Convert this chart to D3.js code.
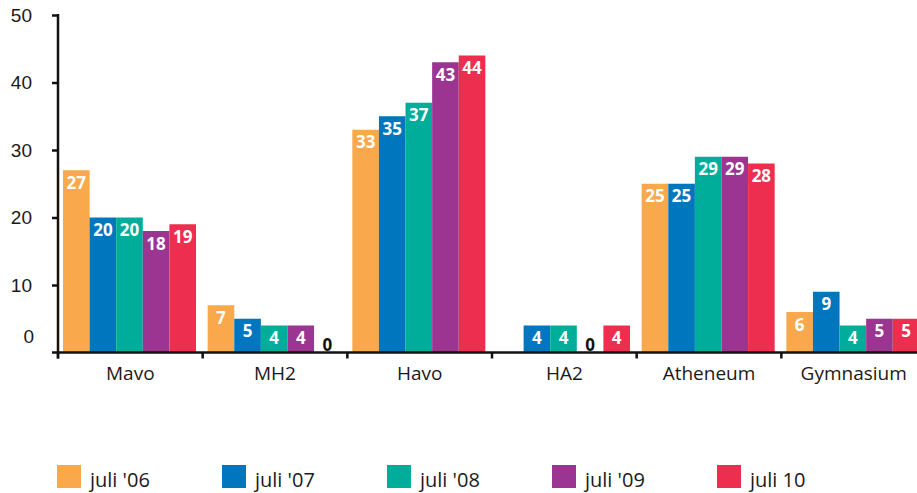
<!DOCTYPE html>
<html>
<head>
<meta charset="utf-8">
<script src="https://cdn.jsdelivr.net/npm/d3@7"></script>
<style>
  body { margin: 0; background: #fff; }
  svg { display: block; font-family: "Open Sans", sans-serif; }
</style>
</head>
<body>
<svg width="917" height="493"></svg>
<script>

var categories = ["Mavo", "MH2", "Havo", "HA2", "Atheneum", "Gymnasium"];
var seriesNames = ["juli '06", "juli '07", "juli '08", "juli '09", "juli 10"];
var seriesColors = ["#f9a84c", "#0076bf", "#00ad9a", "#9b3591", "#ee2e4f"];

var juli06 = [27, 7, 33, null, 25, 6];
var juli07 = [20, 5, 35, 4, 25, 9];
var juli08 = [20, 4, 37, 4, 29, 4];
var juli09 = [18, 4, 43, 0, 29, 5];
var juli10 = [19, 0, 44, 4, 28, 5];

var yTicks = [0, 10, 20, 30, 40, 50];

var series = [juli06, juli07, juli08, juli09, juli10];

var svg = d3.select("svg");

var bandW = 144.67;
var x = d3.scaleBand()
  .domain(categories)
  .range([58, 58 + bandW * categories.length]);

var xs = d3.scaleBand()
  .domain(seriesNames)
  .range([5, 138]);

var y = d3.scaleLinear()
  .domain([0, 50])
  .range([352.5, 15]);

// bars
var cells = [];
series.forEach(function(vals, si){
  vals.forEach(function(v, ci){
    if (v === null) return;
    cells.push({ cat: categories[ci], s: seriesNames[si], color: seriesColors[si], v: v });
  });
});

var g = svg.append("g");

g.selectAll("rect.bar")
  .data(cells.filter(function(d){ return d.v > 0; }))
  .enter().append("rect")
    .attr("class", "bar")
    .attr("x", function(d){ return x(d.cat) + xs(d.s); })
    .attr("width", xs.bandwidth())
    .attr("y", function(d){ return y(d.v); })
    .attr("height", function(d){ return y(0) - y(d.v); })
    .style("fill", function(d){ return d.color; });

g.selectAll("text.val")
  .data(cells)
  .enter().append("text")
    .attr("class", "val")
    .attr("x", function(d){ return x(d.cat) + xs(d.s) + xs.bandwidth() / 2; })
    .attr("y", function(d){ return d.v > 0 ? y(d.v) + 18.5 : y(0) - 1.5; })
    .attr("text-anchor", "middle")
    .style("font-size", "17px")
    .style("font-weight", "bold")
    .style("fill", function(d){ return d.v > 0 ? "#fff" : "#111"; })
    .text(function(d){ return d.v; });

// y axis
var yAxis = svg.append("g")
  .attr("transform", "translate(58,0)")
  .call(d3.axisLeft(y).tickValues(yTicks).tickSize(6).tickPadding(25));

yAxis.select(".domain").remove();
yAxis.selectAll(".tick line")
  .style("stroke", "#111")
  .style("stroke-width", 2.5);
yAxis.selectAll(".tick text")
  .style("font-size", "19px")
  .style("fill", "#1a1a1a")
  .attr("dy", function(d){ return d === 0 ? "-0.55em" : "0.33em"; })
  .attr("x", function(d){ return d === 0 ? -24 : -26; });
yAxis.selectAll(".tick").filter(function(d){ return d === 0; }).select("line").remove();

svg.append("line")
  .attr("x1", 58).attr("x2", 58)
  .attr("y1", y(50) - 1).attr("y2", y(0) + 6)
  .style("stroke", "#111").style("stroke-width", 2.5);

// x axis
svg.append("line")
  .attr("x1", 52).attr("x2", 917)
  .attr("y1", y(0)).attr("y2", y(0))
  .style("stroke", "#111").style("stroke-width", 2.5);

svg.append("g").selectAll("line")
  .data(categories)
  .enter().append("line")
    .attr("x1", function(d){ return x(d); })
    .attr("x2", function(d){ return x(d); })
    .attr("y1", y(0))
    .attr("y2", y(0) + 6)
    .style("stroke", "#111").style("stroke-width", 2.5);

svg.append("g").selectAll("text")
  .data(categories)
  .enter().append("text")
    .attr("x", function(d){ return x(d) + x.bandwidth() / 2; })
    .attr("y", 380)
    .attr("text-anchor", "middle")
    .style("font-size", "19px")
    .style("fill", "#1a1a1a")
    .text(function(d){ return d; });

// legend
var legend = svg.append("g").selectAll("g")
  .data(seriesNames)
  .enter().append("g")
    .attr("transform", function(d, i){ return "translate(" + (57 + i * 165) + ",465)"; });

legend.append("rect")
  .attr("width", 24).attr("height", 23)
  .style("fill", function(d, i){ return seriesColors[i]; });

legend.append("text")
  .attr("x", 33).attr("y", 22)
  .style("font-size", "20px")
  .style("fill", "#1a1a1a")
  .text(function(d){ return d; });

</script>
</body>
</html>
